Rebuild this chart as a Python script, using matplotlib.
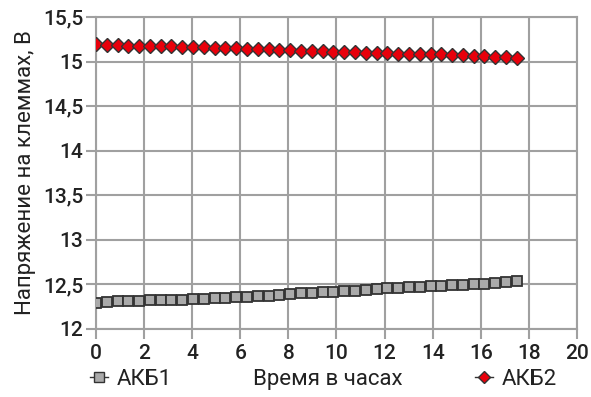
import matplotlib.pyplot as plt
from matplotlib.lines import Line2D

# time, hours
hours = [0, 0.45, 0.9, 1.35, 1.79, 2.24, 2.69, 3.14, 3.59, 4.04,
         4.49, 4.94, 5.38, 5.83, 6.28, 6.73, 7.18, 7.63, 8.08, 8.53,
         8.97, 9.42, 9.87, 10.32, 10.77, 11.22, 11.67, 12.12, 12.56, 13.01,
         13.46, 13.91, 14.36, 14.81, 15.26, 15.71, 16.15, 16.6, 17.05, 17.5]

akb1 = [12.29, 12.30, 12.31, 12.31, 12.31, 12.32, 12.32, 12.32, 12.33, 12.34,
        12.34, 12.35, 12.35, 12.36, 12.36, 12.37, 12.37, 12.38, 12.39, 12.40,
        12.40, 12.41, 12.42, 12.43, 12.43, 12.44, 12.45, 12.46, 12.46, 12.47,
        12.47, 12.48, 12.48, 12.49, 12.49, 12.51, 12.51, 12.52, 12.53, 12.54]

akb2 = [15.20, 15.19, 15.19, 15.18, 15.18, 15.17, 15.17, 15.17, 15.16, 15.16,
        15.16, 15.15, 15.15, 15.15, 15.14, 15.14, 15.14, 15.13, 15.13, 15.12,
        15.12, 15.12, 15.11, 15.11, 15.11, 15.10, 15.10, 15.10, 15.09, 15.09,
        15.08, 15.08, 15.08, 15.07, 15.07, 15.06, 15.06, 15.05, 15.05, 15.04]

x_ticks = [0, 2, 4, 6, 8, 10, 12, 14, 16, 18, 20]
y_ticks = [12, 12.5, 13, 13.5, 14, 14.5, 15, 15.5]
y_labels = ['12', '12,5', '13', '13,5', '14', '14,5', '15', '15,5']

txt = '#222222'
grid = '#a0a0a0'
plt.rcParams['font.family'] = ['Roboto', 'DejaVu Sans']

fig = plt.figure(figsize=(5.91, 3.97), dpi=100)
ax = fig.add_axes([0.1624, 0.1713, 0.8139, 0.7859])

ax.plot(hours, akb1, ls='none', marker='s', ms=6.5, mfc='#aaaaaa', mec='#333333', mew=1.3, zorder=3)
ax.plot(hours, akb2, ls='none', marker='D', ms=7.5, mfc='#e8000b', mec='#333333', mew=1, zorder=3)

ax.set_xlim(0, 20)
ax.set_ylim(12, 15.5)
ax.set_xticks(x_ticks)
ax.set_yticks(y_ticks)
ax.set_xticklabels([str(t) for t in x_ticks], fontsize=15, fontweight='medium', color=txt)
ax.set_yticklabels(y_labels, fontsize=15, fontweight='medium', color=txt)
ax.tick_params(axis='x', length=7, width=1.5, color=grid, pad=4)
ax.tick_params(axis='y', length=7, width=1.5, color=grid, pad=2)
ax.grid(True, color=grid, lw=1.5)
for s in ax.spines.values():
    s.set_color(grid)
    s.set_linewidth(1.5)
ax.set_axisbelow(True)

ax.set_ylabel('Напряжение на клеммах, В', fontsize=16, color=txt, labelpad=5)
fig.text(0.555, 0.045, 'Время в часах', fontsize=16, color=txt, ha='center', va='center')

h1 = Line2D([], [], color='#333333', lw=1, marker='s', ms=6.5, mfc='#aaaaaa', mec='#333333')
h2 = Line2D([], [], color='#333333', lw=1, marker='D', ms=6.5, mfc='#e8000b', mec='#333333')
leg1 = fig.legend([h1], ['АКБ1'], loc='center left', bbox_to_anchor=(0.118, 0.045),
                  frameon=False, handlelength=0.8, handletextpad=0.4,
                  prop={'size': 16})
leg2 = fig.legend([h2], ['АКБ2'], loc='center left', bbox_to_anchor=(0.77, 0.045),
                  frameon=False, handlelength=0.8, handletextpad=0.4,
                  prop={'size': 16})
for leg in (leg1, leg2):
    for t in leg.get_texts():
        t.set_color(txt)

fig.savefig('out.png', dpi=100)
